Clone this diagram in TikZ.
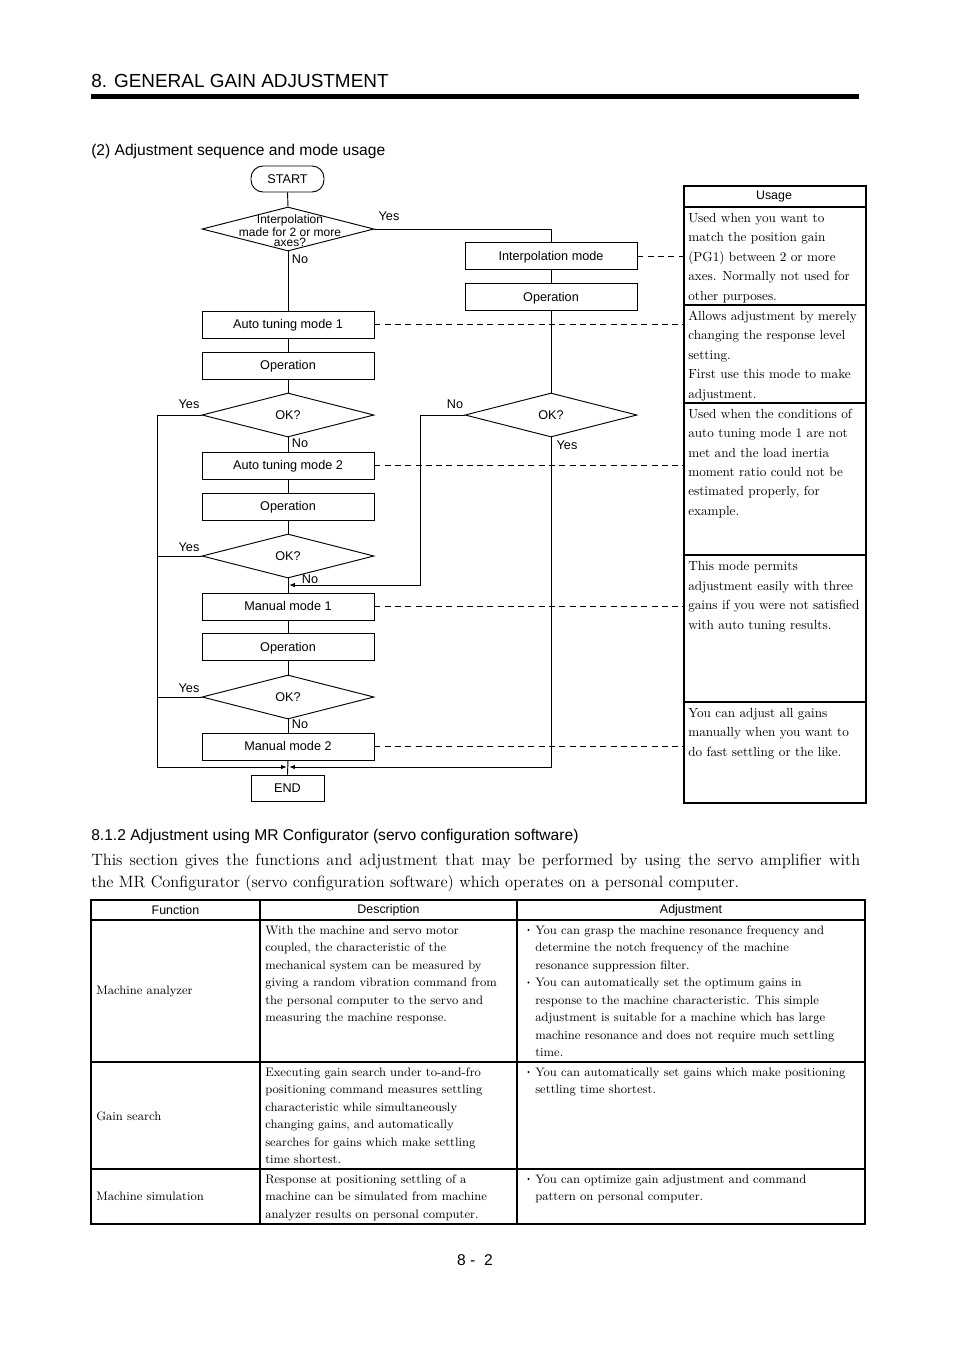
\documentclass[tikz,border=0pt]{standalone}
\usepackage{fontspec}
\setsansfont{Liberation Sans}
\usetikzlibrary{shapes.geometric,arrows.meta}
\begin{document}
\begin{tikzpicture}[x=0.75pt,y=-0.75pt,
  fl/.style={line width=0.7pt},
  box/.style={draw, fl, rectangle, minimum width=172*0.75pt, minimum height=27*0.75pt, inner sep=0pt, text depth=0.4pt, font=\sffamily\fontsize{9.5}{11}\selectfont},
  dia/.style={draw, fl, diamond, minimum width=172*0.75pt, minimum height=44*0.75pt, inner sep=0pt, font=\sffamily\fontsize{9.5}{11}\selectfont},
  lbl/.style={inner sep=0pt, font=\sffamily\fontsize{9.5}{11}\selectfont},
  dashlink/.style={fl, dash pattern=on 4.5pt off 3.2pt},
  arr/.style={fl, -{Latex[length=4.2pt,width=3.3pt]}},
  usetxt/.style={anchor=north west, inner sep=0pt, align=left, font=\fontsize{9.9}{14.6}\selectfont},
  tabtxt/.style={anchor=north west, inner sep=0pt, align=left, font=\fontsize{9.2}{13.1}\selectfont},
  head/.style={inner sep=0pt, font=\sffamily\fontsize{9.3}{11}\selectfont},
  ttl/.style={anchor=base west, inner sep=0pt, font=\sffamily\fontsize{11.7}{14}\selectfont},
  para/.style={anchor=base west, inner sep=0pt, font=\fontsize{12.3}{16}\selectfont},
  bul/.style={circle, fill, inner sep=0pt, minimum size=1.8pt}
]
\useasboundingbox (0,0) rectangle (954,1350);
\fill[white] (0,0) rectangle (954,1350);

% header
\node[anchor=base west, inner sep=0pt, font=\sffamily\fontsize{14.2}{17}\selectfont] (title) at (91,87) {8. GENERAL GAIN ADJUSTMENT};
\draw[line width=3.75pt] (91,96) -- (859,96);
\node[ttl] (sub) at (91,155.5) {(2) Adjustment sequence and mode usage};

% flowchart nodes
\node[box, minimum width=73*0.75pt, minimum height=26*0.75pt, rounded corners=9pt] (start) at (287.5,179) {START};
\node[dia] (d1) at (288,229) {};
\node[inner sep=0pt, align=center, font=\sffamily\fontsize{9}{7.9}\selectfont] (d1t) at (290,231) {Interpolation\\made for 2 or more\\axes?};
\node[box] (im) at (551,256) {Interpolation mode};
\node[box] (op0) at (551,297) {Operation};
\node[dia] (d0) at (551,415) {OK?};
\node[box] (at1) at (288,324.5) {Auto tuning mode 1};
\node[box] (op1) at (288,365.5) {Operation};
\node[dia] (k1) at (288,415) {OK?};
\node[box] (at2) at (288,465.5) {Auto tuning mode 2};
\node[box] (op2) at (288,506.5) {Operation};
\node[dia] (k2) at (288,556) {OK?};
\node[box] (mm1) at (288,606.5) {Manual mode 1};
\node[box] (op3) at (288,647) {Operation};
\node[dia] (k3) at (288,697) {OK?};
\node[box] (mm2) at (288,746.5) {Manual mode 2};
\node[box, minimum width=73*0.75pt, minimum height=26*0.75pt] (end) at (287.5,788) {END};

% labels
\node[lbl] (y1) at (389,216.5) {Yes};
\node[lbl] (n1) at (300,259.5) {No};
\node[lbl] (y2) at (189,404.5) {Yes};
\node[lbl] (n2) at (300,443.5) {No};
\node[lbl] (n0) at (455,404.5) {No};
\node[lbl] (y0) at (567,445.5) {Yes};
\node[lbl] (y3) at (189,547.5) {Yes};
\node[lbl] (n3) at (310,579.5) {No};
\node[lbl] (y4) at (189,688.5) {Yes};
\node[lbl] (n4) at (300,724.5) {No};

% connectors
\draw[fl] (start.south) -- (d1.north);
\draw[fl] (d1.east) -| (im.north);
\draw[fl] (d1.south) -- (at1.north);
\draw[fl] (im.south) -- (op0.north);
\draw[fl] (op0.south) -- (d0.north);
\draw[fl] (at1.south) -- (op1.north);
\draw[fl] (op1.south) -- (k1.north);
\draw[fl] (k1.south) -- (at2.north);
\draw[fl] (at2.south) -- (op2.north);
\draw[fl] (op2.south) -- (k2.north);
\draw[fl] (k2.south) -- (mm1.north);
\draw[fl] (mm1.south) -- (op3.north);
\draw[fl] (op3.south) -- (k3.north);
\draw[fl] (k3.south) -- (mm2.north);
\draw[fl] (mm2.south) -- (end.north);

\coordinate (lb) at (157,767);
\coordinate (jl) at (286.8,767);
\coordinate (jr) at (289.2,767);
\coordinate (rn) at (420,585);
\coordinate (jn) at (289.2,585);
\draw[arr] (k1.west) -| (lb) -- (jl);
\draw[fl] (k2.west) -- (k2.west -| lb);
\draw[fl] (k3.west) -- (k3.west -| lb);
\draw[arr] (d0.south) |- (jr);
\draw[arr] (d0.west) -| (rn) -- (jn);

% usage box
\node[draw, line width=1.5pt, minimum width=182*0.75pt, minimum height=617*0.75pt, inner sep=0pt, anchor=north west] (usage) at (683,185) {};
\draw[line width=1.5pt] (683,207) -- (865,207);
\draw[line width=1pt] (683,305) -- (865,305);
\draw[line width=1pt] (683,403) -- (865,403);
\draw[line width=1pt] (683,555) -- (865,555);
\draw[line width=1pt] (683,702) -- (865,702);
\node[head] (uh) at (774,196.5) {Usage};
\node[usetxt] (u1) at (688,213) {Used when you want to\\match the position gain\\(PG1) between 2 or more\\axes. Normally not used for\\other purposes.};
\node[usetxt] (u2) at (688,310.5) {Allows adjustment by merely\\changing the response level\\setting.\\First use this mode to make\\adjustment.};
\node[usetxt] (u3) at (688,408.5) {Used when the conditions of\\auto tuning mode 1 are not\\met and the load inertia\\moment ratio could not be\\estimated properly, for\\example.};
\node[usetxt] (u4) at (688,561.5) {This mode permits\\adjustment easily with three\\gains if you were not satisfied\\with auto tuning results.};
\node[usetxt] (u5) at (688,708) {You can adjust all gains\\manually when you want to\\do fast settling or the like.};

\draw[dashlink] (im.east) -- (im.east -| usage.west);
\draw[dashlink] (at1.east) -- (at1.east -| usage.west);
\draw[dashlink] (at2.east) -- (at2.east -| usage.west);
\draw[dashlink] (mm1.east) -- (mm1.east -| usage.west);
\draw[dashlink] (mm2.east) -- (mm2.east -| usage.west);

% section 8.1.2
\node[ttl] (sec) at (91,840.5) {8.1.2 Adjustment using MR Configurator (servo configuration software)};
\node[para] (p1) at (91,865.5) {\makebox[576.75pt][s]{This section gives the functions and adjustment that may be performed by using the servo amplifier with}};
\node[para] (p2) at (91,887.5) {the MR Configurator (servo configuration software) which operates on a personal computer.};

% table
\draw[line width=1.5pt] (91,900) rectangle (865,1224);
\draw[line width=1.3pt] (91,920) -- (865,920);
\draw[line width=0.8pt] (91,1062) -- (865,1062);
\draw[line width=0.8pt] (91,1169) -- (865,1169);
\draw[line width=0.8pt] (260,900) -- (260,1224);
\draw[line width=0.8pt] (517,900) -- (517,1224);
\node[head] (th1) at (175.5,910.5) {Function};
\node[head] (th2) at (388.5,910.5) {Description};
\node[head] (th3) at (691,910.5) {Adjustment};

\node[tabtxt, anchor=west] (f1) at (96,991) {Machine analyzer};
\node[tabtxt, anchor=west] (f2) at (96,1116) {Gain search};
\node[tabtxt, anchor=west] (f3) at (96,1196.5) {Machine simulation};

\node[tabtxt] (e1) at (265,925.5) {With the machine and servo motor\\coupled, the characteristic of the\\mechanical system can be measured by\\giving a random vibration command from\\the personal computer to the servo and\\measuring the machine response.};
\node[tabtxt] (e2) at (265,1067.5) {Executing gain search under to-and-fro\\positioning command measures settling\\characteristic while simultaneously\\changing gains, and automatically\\searches for gains which make settling\\time shortest.};
\node[tabtxt] (e3) at (265,1174.5) {Response at positioning settling of a\\machine can be simulated from machine\\analyzer results on personal computer.};

\node[tabtxt] (a1) at (535,925.5) {You can grasp the machine resonance frequency and\\determine the notch frequency of the machine\\resonance suppression filter.};
\node[tabtxt] (a2) at (535,978) {You can automatically set the optimum gains in\\response to the machine characteristic. This simple\\adjustment is suitable for a machine which has large\\machine resonance and does not require much settling\\time.};
\node[tabtxt] (a3) at (535,1067.5) {You can automatically set gains which make positioning\\settling time shortest.};
\node[tabtxt] (a4) at (535,1174.5) {You can optimize gain adjustment and command\\pattern on personal computer.};
\node[bul] (b1) at (528.5,930) {};
\node[bul] (b2) at (528.5,982.5) {};
\node[bul] (b3) at (528.5,1072) {};
\node[bul] (b4) at (528.5,1179) {};

\node[anchor=base, inner sep=0pt, font=\sffamily\fontsize{11.7}{14}\selectfont] (pg) at (475,1265.5) {8 -\ \ 2};
\end{tikzpicture}
\end{document}
